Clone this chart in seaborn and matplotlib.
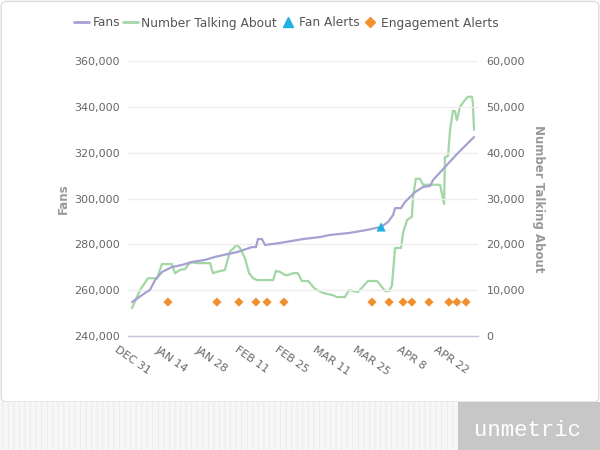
import matplotlib
matplotlib.use("Agg")
from matplotlib import pyplot as plt
from matplotlib.lines import Line2D
from matplotlib.patches import Rectangle, FancyBboxPatch
import pandas as pd
import seaborn as sns

# data (days after Dec 31)
fan_days = [0.0, 2.1, 4.6, 6.3, 8.1, 10.5, 14.0, 17.5, 21.1, 25.6, 29.1, 31.9, 36.8,
            42.1, 43.5, 44.2, 45.6, 46.7, 51.9, 60.0, 66.0, 69.5, 76.5, 82.5, 87.4,
            89.8, 91.6, 92.3, 94.4, 95.8, 99.3, 102.1, 104.6, 105.6, 109.8, 114.4, 120.0]
fan_values = [254800, 256600, 258800, 260100, 264400, 267900, 270100, 271000, 272300,
              273200, 274500, 275300, 276600, 278800, 278800, 282300, 282300, 279700,
              280600, 282300, 283200, 284100, 285000, 286300, 287600, 289700, 292800,
              295800, 295800, 298500, 302800, 305000, 305500, 308000, 313700, 319900, 326800]

talk_days = [0.0, 2.8, 5.6, 8.8, 10.5, 14.0, 15.1, 16.8, 18.6, 20.4, 22.8, 27.4, 28.4,
             29.8, 32.6, 34.4, 35.4, 36.8, 37.9, 39.6, 41.1, 42.5, 43.9, 49.5, 50.5,
             51.9, 53.7, 54.7, 56.5, 58.2, 59.6, 61.8, 64.2, 67.0, 70.5, 71.9, 74.7,
             76.1, 79.3, 82.8, 86.0, 87.7, 88.8, 90.2, 91.2, 92.3, 94.4, 95.1, 96.5,
             98.2, 98.6, 99.6, 101.1, 102.1, 108.1, 108.8, 109.5, 109.8, 110.9, 111.6,
             112.6, 113.3, 114.0, 115.1, 116.8, 117.9, 119.3, 119.6, 120.0]
talk_values = [6100, 10000, 12600, 12600, 15700, 15700, 13700, 14400, 14600, 16100, 15900,
               15900, 13700, 14000, 14400, 18500, 19000, 19900, 19200, 17000, 13700, 12600,
               12200, 12200, 14200, 14000, 13300, 13300, 13700, 13700, 12000, 12000, 10300,
               9400, 8900, 8500, 8500, 10000, 9600, 12000, 12000, 10700, 9800, 9800, 11000,
               19200, 19200, 22500, 25300, 26000, 30300, 34300, 34300, 33000, 33000, 30800,
               28800, 39000, 39300, 45000, 49100, 49100, 47100, 50000, 51500, 52200, 52200,
               50800, 45000]

fan_alert_days = [87.4]
fan_alert_values = [287600]

engagement_days = [12.6, 29.8, 37.5, 43.5, 47.4, 53.3, 84.2, 90.2, 95.1, 98.2, 104.2,
                   111.2, 114.0, 117.2]
engagement_level = 7400

tick_days = [0, 14, 28, 42, 56, 70, 84, 98, 112]
tick_labels = ['DEC 31', 'JAN 14', 'JAN 28', 'FEB 11', 'FEB 25', 'MAR 11', 'MAR 25',
               'APR 8', 'APR 22']

base = pd.Timestamp('2012-12-31')


def to_dates(days):
    return base + pd.to_timedelta(days, unit='D')


FAN_C = '#a5a2d2'
TALK_C = '#a3d6a5'
ALERT_C = '#1fb0e4'
ENG_C = '#f29030'
TXT = '#666666'

sns.set_theme(style='white')
plt.rcParams['font.family'] = ['DejaVu Sans']
plt.rcParams['hatch.linewidth'] = 0.6

fans = pd.DataFrame({'date': to_dates(fan_days), 'fans': fan_values})
talk = pd.DataFrame({'date': to_dates(talk_days), 'talk': talk_values})
alerts = pd.DataFrame({'date': to_dates(fan_alert_days), 'fans': fan_alert_values})
eng = pd.DataFrame({'date': to_dates(engagement_days),
                    'level': [engagement_level] * len(engagement_days)})

fig = plt.figure(figsize=(6, 4.5), dpi=100)
ax = fig.add_axes([128 / 600, 1 - 336 / 450, 350 / 600, 275 / 450])
ax2 = ax.twinx()

# card + footer
fig.patches.append(FancyBboxPatch((0.002, 48 / 450), 0.996, 1 - 48 / 450 - 0.003,
                                  boxstyle='round,pad=0,rounding_size=0.01',
                                  transform=fig.transFigure, facecolor='none',
                                  edgecolor='#dddddd', lw=1, zorder=-5))
fig.patches.append(Rectangle((0, 0), 458 / 600, 48 / 450, transform=fig.transFigure,
                             facecolor='#f7f7f7', edgecolor='#e9e9e9', hatch='|||',
                             lw=0, zorder=-5))
fig.patches.append(Rectangle((458 / 600, 0), 142 / 600, 48 / 450, transform=fig.transFigure,
                             facecolor='#c7c7c7', lw=0, zorder=-4))
fig.text(528 / 600, 1 - 430 / 450, 'unmetric', color='white', fontsize=16,
         family='Liberation Mono', ha='center', va='center')

# lines
sns.lineplot(data=talk, x='date', y='talk', ax=ax2, color=TALK_C, lw=1.6, sort=False)
sns.lineplot(data=fans, x='date', y='fans', ax=ax, color=FAN_C, lw=1.6, sort=False)
sns.scatterplot(data=eng, x='date', y='level', ax=ax2, marker='D', color=ENG_C,
                s=22, edgecolor='none', zorder=5)
sns.scatterplot(data=alerts, x='date', y='fans', ax=ax, marker='^', color=ALERT_C,
                s=45, edgecolor='none', zorder=5)

ax.set_zorder(ax2.get_zorder() + 1)
ax.patch.set_visible(False)

ax.set_ylim(240000, 360000)
ax2.set_ylim(0, 60000)
ax.set_yticks(range(240000, 360001, 20000))
ax2.set_yticks(range(0, 60001, 10000))
ax.set_yticklabels([f'{v:,}' for v in range(240000, 360001, 20000)])
ax2.set_yticklabels([f'{v:,}' for v in range(0, 60001, 10000)])
ax.set_xlim(to_dates([-1.4])[0], to_dates([121.4])[0])
ax.set_xticks(to_dates(tick_days))
ax.set_xticklabels(tick_labels, rotation=-35, ha='center', va='top')

ax.yaxis.grid(True, color='#eeeeee', lw=1)
ax.xaxis.grid(False)
ax2.grid(False)
for a in (ax, ax2):
    for s in a.spines.values():
        s.set_visible(False)
ax.spines['bottom'].set_visible(True)
ax.spines['bottom'].set_color('#c4c4d6')
ax.spines['bottom'].set_linewidth(1)

ax.tick_params(axis='y', length=0, pad=6, labelsize=8, labelcolor=TXT)
ax.tick_params(axis='x', length=0, pad=6, labelsize=8, labelcolor=TXT)
ax2.tick_params(axis='y', length=0, pad=6, labelsize=8, labelcolor=TXT)

ax.set_xlabel('')
ax.set_ylabel('Fans', color='#999999', fontsize=8.5, weight='bold', ha='center', va='center')
ax.yaxis.set_label_coords((63 - 128) / 350, 0.5)
ax2.set_ylabel('Number Talking About', color='#999999', fontsize=8.5, weight='bold',
               rotation=270, ha='center', va='center')
ax2.yaxis.set_label_coords((538 - 128) / 350, 0.5)

handles = [Line2D([], [], color=FAN_C, lw=2),
           Line2D([], [], color=TALK_C, lw=2),
           Line2D([], [], color=ALERT_C, marker='^', ls='none', markersize=7),
           Line2D([], [], color=ENG_C, marker='D', ls='none', markersize=5)]
labels = ['Fans', 'Number Talking About', 'Fan Alerts', 'Engagement Alerts']
fig.legend(handles, labels, loc='center', bbox_to_anchor=(286 / 600, 1 - 23 / 450), ncol=4,
           frameon=False, fontsize=8.8, handlelength=1.3, handletextpad=0.25,
           columnspacing=0.2, labelcolor='#555555')

fig.savefig('out.png', dpi=100)
